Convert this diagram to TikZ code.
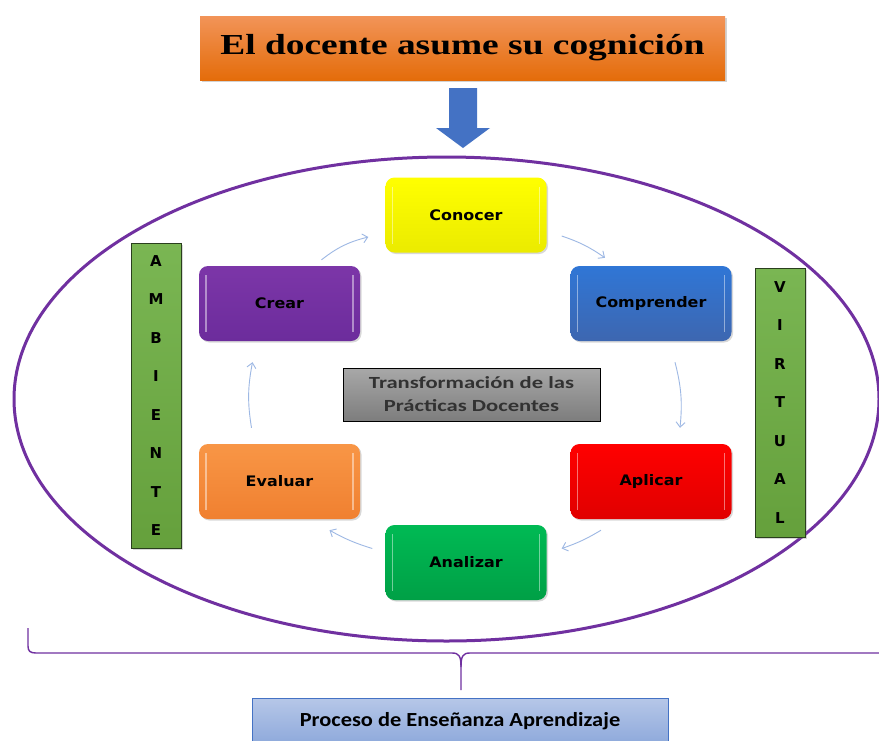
\documentclass[tikz,border=0pt]{standalone}
\usepackage{fontspec}
\setmainfont{Liberation Serif}
\newfontfamily\dvs{DejaVu Sans}
\newfontfamily\carl{Carlito}
\usetikzlibrary{shadows,arrows.meta,calc,shapes.geometric}
\definecolor{ttop}{HTML}{F29458}
\definecolor{tbot}{HTML}{E46C0A}
\definecolor{arrblue}{HTML}{4472C4}
\definecolor{ovalc}{HTML}{7030A0}
\definecolor{cyccol}{HTML}{9DB8E4}
\definecolor{gtop}{HTML}{7AB653}
\definecolor{gbot}{HTML}{65A03C}
\definecolor{gline}{HTML}{2A3F1E}
\newcommand{\wide}[2]{\scalebox{#1}[1]{#2}}
\begin{document}
\begin{tikzpicture}[x=1pt,y=-1pt,
  stepbox/.style={rounded corners=9pt, minimum width=161pt, minimum height=75pt, inner sep=0pt,
    font=\dvs\bfseries\fontsize{14.5}{16}\selectfont,
    drop shadow={shadow xshift=1.5pt,shadow yshift=-1.5pt,opacity=0.3},
    path picture={
      \draw[white,opacity=0.45,line width=1.6pt] ($(path picture bounding box.north west)+(7,9)$) -- ($(path picture bounding box.south west)+(7,-9)$);
      \draw[white,opacity=0.45,line width=1.6pt] ($(path picture bounding box.north east)+(-7,9)$) -- ($(path picture bounding box.south east)+(-7,-9)$);
    }},
  bar/.style={draw=gline, line width=0.8pt, top color=gtop, bottom color=gbot, minimum width=50pt, inner sep=0pt,
    align=center, font=\dvs\bfseries\fontsize{15}{38.5}\selectfont,
    drop shadow={shadow xshift=1.5pt,shadow yshift=-1.5pt,opacity=0.3}},
  cyc/.style={cyccol, line width=0.9pt, -{Straight Barb[length=5pt,width=9pt]}}
]
\useasboundingbox (0,0) rectangle (879,740);
\fill[white] (0,0) rectangle (879,740);

% title
\node[top color=ttop, bottom color=tbot, minimum width=525pt, minimum height=64pt, inner sep=0pt,
  drop shadow={shadow xshift=2pt,shadow yshift=-2pt,opacity=0.35},
  font=\bfseries\fontsize{29}{32}\selectfont] (title) at (462.5,48) {\wide{1.29}{El docente asume su cognición}};

% blue arrow
\fill[arrblue] (449,88) -- (477,88) -- (477,128) -- (490,128) -- (463,148) -- (436,128) -- (449,128) -- cycle;

% oval
\draw[ovalc, line width=3pt] (446.5,399) ellipse [x radius=432.5, y radius=242];

% boxes
\node[stepbox, top color=yellow!100, bottom color=yellow!92!black] (conocer) at (466,215) {\wide{1.1}{Conocer}};
\node[stepbox, top color=blue!50!cyan!30!arrblue, bottom color=arrblue!90!black] (compr) at (651,303.5) {\wide{1.1}{Comprender}};
\node[stepbox, top color=red, bottom color=red!88!black] (aplicar) at (651,481.5) {\wide{1.1}{Aplicar}};
\node[stepbox, top color={rgb,255:red,0;green,186;blue,84}, bottom color={rgb,255:red,0;green,160;blue,70}] (analizar) at (466,562.5) {\wide{1.1}{Analizar}};
\node[stepbox, top color={rgb,255:red,248;green,150;blue,70}, bottom color={rgb,255:red,240;green,128;blue,48}] (evaluar) at (279.5,481.5) {\wide{1.1}{Evaluar}};
\node[stepbox, top color={rgb,255:red,124;green,54;blue,168}, bottom color={rgb,255:red,108;green,44;blue,156}] (crear) at (279.5,303.5) {\wide{1.1}{Crear}};

% center box
\node[draw=black, line width=0.8pt, top color={rgb,255:red,168;green,168;blue,168}, bottom color={rgb,255:red,125;green,125;blue,125},
  minimum width=257pt, minimum height=53pt, inner sep=0pt, align=center,
  text={rgb,255:red,50;green,50;blue,50}, font=\carl\bfseries\fontsize{17}{23}\selectfont] (trans) at (471.5,394.5)
  {\wide{1.33}{Transformación de las}\\\wide{1.33}{Prácticas Docentes}};

% bars
\node[bar, minimum height=305pt] (amb) at (156,395.5) {A\\M\\B\\I\\E\\N\\T\\E};
\node[bar, minimum height=269pt] (virt) at (780,402.5) {V\\I\\R\\T\\U\\A\\L};

% cycle arrows
\draw[cyc] ([shift={(42,-6)}]crear.north) to[bend left=12] ([shift={(-17,22)}]conocer.west);
\draw[cyc] ([shift={(15,21)}]conocer.east) to[bend left=8] ([shift={(-46,-8)}]compr.north);
\draw[cyc] ([shift={(24,21)}]compr.south) to[bend left=10] ([shift={(29,-16)}]aplicar.north);
\draw[cyc] ([shift={(-50,11)}]aplicar.south) to[bend left=6] ([shift={(15,-14)}]analizar.east);
\draw[cyc] ([shift={(-13,-14)}]analizar.west) to[bend left=6] ([shift={(50,11)}]evaluar.south);
\draw[cyc] ([shift={(-28,-16)}]evaluar.north) to[bend left=10] ([shift={(-27,21)}]crear.south);

% brace
\coordinate (bl) at (28,628);
\coordinate (bt) at (461,690);
\draw[ovalc, line width=1.4pt] (bl) -- (28,646) .. controls (28,651) and (30,653) .. (36,653) -- (452,653)
  .. controls (459,653) and (461,656) .. (461,667) -- (bt);
\draw[ovalc, line width=1.4pt] (461,667) .. controls (461,656) and (463,653) .. (470,653) -- (885,653);

% bottom box
\node[draw=arrblue, line width=0.8pt, top color={rgb,255:red,182;green,199;blue,232}, bottom color={rgb,255:red,142;green,169;blue,219},
  minimum width=416pt, minimum height=46pt, inner sep=0pt,
  font=\carl\bfseries\fontsize{20}{22}\selectfont] (proc) at (460,721) {\wide{1.12}{Proceso de Enseñanza Aprendizaje}};
\end{tikzpicture}
\end{document}
